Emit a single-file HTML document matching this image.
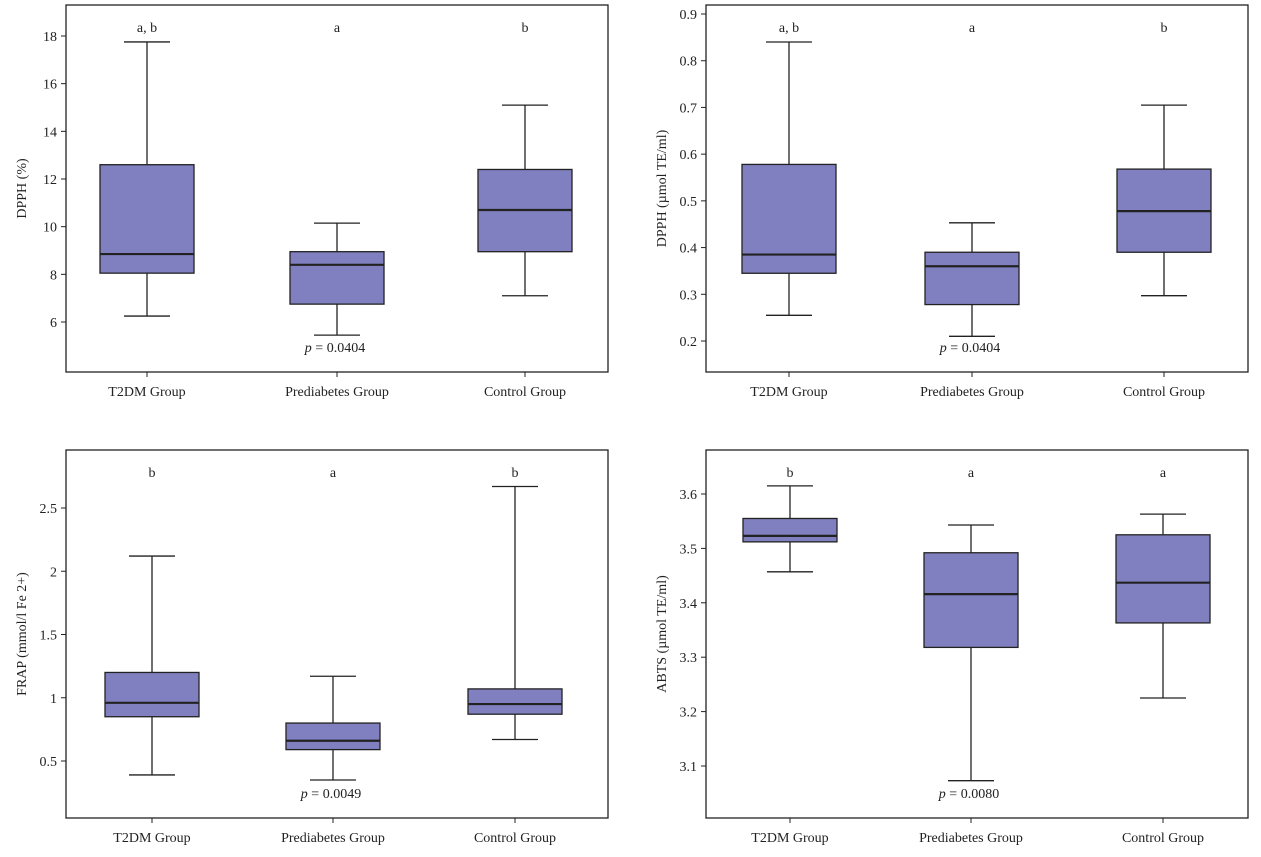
<!DOCTYPE html>
<html><head><meta charset="utf-8"><style>
body{margin:0;background:#fff;}
svg text{font-family:"Liberation Serif",serif;fill:#222;}
</style></head><body>
<svg id="c" width="1261" height="852" xmlns="http://www.w3.org/2000/svg"></svg>
<script>
const groups = ["T2DM Group","Prediabetes Group","Control Group"];
// each stat: [min, q1, median, q3, max]
const dpphPct = [[6.25,8.05,8.85,12.6,17.75],[5.45,6.75,8.4,8.95,10.15],[7.1,8.95,10.7,12.4,15.1]];
const dpphTE = [[0.255,0.345,0.385,0.578,0.84],[0.21,0.278,0.36,0.39,0.453],[0.297,0.39,0.478,0.568,0.705]];
const frap = [[0.39,0.85,0.96,1.2,2.12],[0.35,0.59,0.66,0.8,1.17],[0.67,0.87,0.95,1.07,2.67]];
const abts = [[3.457,3.512,3.523,3.555,3.615],[3.073,3.318,3.416,3.492,3.543],[3.225,3.363,3.437,3.525,3.563]];
const ticks1 = [6,8,10,12,14,16,18];
const ticks2 = [0.2,0.3,0.4,0.5,0.6,0.7,0.8,0.9];
const ticks3 = [0.5,1,1.5,2,2.5];
const ticks4 = [3.1,3.2,3.3,3.4,3.5,3.6];
const letters1 = ["a, b","a","b"];
const letters2 = ["a, b","a","b"];
const letters3 = ["b","a","b"];
const letters4 = ["b","a","a"];

const svg = document.getElementById('c');
const NS = "http://www.w3.org/2000/svg";
function mk(tag, attrs, parent){const e=document.createElementNS(NS,tag);for(const k in attrs)e.setAttribute(k,attrs[k]);(parent||svg).appendChild(e);return e;}

const panels = [
 {name:"dpph-percent",x0:66,x1:608,y0:5,y1:372,v0:6,p0:322,v1:18,p1:36,centers:[147,337,525],data:dpphPct,ticks:ticks1,letters:letters1,ylab:"DPPH (%)",p:"0.0404",labX:-1},
 {name:"dpph-te",x0:706,x1:1248,y0:5,y1:372,v0:0.2,p0:341,v1:0.9,p1:14,centers:[789,972,1164],data:dpphTE,ticks:ticks2,letters:letters2,ylab:"DPPH (µmol TE/ml)",p:"0.0404"},
 {name:"frap",x0:66,x1:608,y0:450,y1:818,v0:0.5,p0:761,v1:2.5,p1:508,centers:[152,333,515],data:frap,ticks:ticks3,letters:letters3,ylab:"FRAP (mmol/l Fe 2+)",p:"0.0049"},
 {name:"abts",x0:706,x1:1248,y0:450,y1:818,v0:3.1,p0:766,v1:3.6,p1:494,centers:[790,971,1163],data:abts,ticks:ticks4,letters:letters4,ylab:"ABTS (µmol TE/ml)",p:"0.0080"}
];
panels.forEach(P=>{
 const g = mk('g',{});
 
 
 const y = v => P.p0 + (v-P.v0)*(P.p1-P.p0)/(P.v1-P.v0);
 const fr = mk('rect',{x:P.x0,y:P.y0,width:P.x1-P.x0,height:P.y1-P.y0,fill:'none',stroke:'#222','stroke-width':1.3},g);
 
 
 P.ticks.forEach(t=>{
  const yy=y(t);
  mk('line',{x1:P.x0-5,x2:P.x0,y1:yy,y2:yy,stroke:'#222'},g);
  const tx=mk('text',{x:P.x0-9,y:yy+5,'text-anchor':'end','font-size':14},g);
  tx.textContent=t;
  
  
 });
 const yl=mk('text',{x:0,y:0,'text-anchor':'middle','font-size':14,transform:`translate(${P.x0-40},${(P.y0+P.y1)/2}) rotate(-90)`},g);
 yl.textContent=P.ylab;
 
 
 P.data.forEach((d,i)=>{
  const cx=P.centers[i], w=94, cw=46;
  mk('line',{x1:cx,x2:cx,y1:P.y1,y2:P.y1+5,stroke:'#222'},g);
  const xl=mk('text',{x:cx,y:P.y1+24,'text-anchor':'middle','font-size':14},g);
  xl.textContent=groups[i];
  
  
  const bg=mk('g',{},g);
  
  
  mk('line',{x1:cx,x2:cx,y1:y(d[4]),y2:y(d[3]),stroke:'#222','stroke-width':1.3},bg);
  mk('line',{x1:cx,x2:cx,y1:y(d[1]),y2:y(d[0]),stroke:'#222','stroke-width':1.3},bg);
  mk('line',{x1:cx-cw/2,x2:cx+cw/2,y1:y(d[4]),y2:y(d[4]),stroke:'#222','stroke-width':1.3},bg);
  mk('line',{x1:cx-cw/2,x2:cx+cw/2,y1:y(d[0]),y2:y(d[0]),stroke:'#222','stroke-width':1.3},bg);
  mk('rect',{x:cx-w/2,y:y(d[3]),width:w,height:y(d[1])-y(d[3]),fill:'#8080c0',stroke:'#222','stroke-width':1.3},bg);
  mk('line',{x1:cx-w/2,x2:cx+w/2,y1:y(d[2]),y2:y(d[2]),stroke:'#222','stroke-width':2.2},bg);
  const lt=mk('text',{x:cx,y:P.y0+27,'text-anchor':'middle','font-size':14},g);
  lt.textContent=P.letters[i];
  
  
 });
 const pt=mk('text',{x:P.centers[1]-2,y:P.y1-20,'text-anchor':'middle','font-size':14},g);
 pt.innerHTML='<tspan font-style="italic">p</tspan> = '+P.p;
 
 
});
</script>
</body></html>
